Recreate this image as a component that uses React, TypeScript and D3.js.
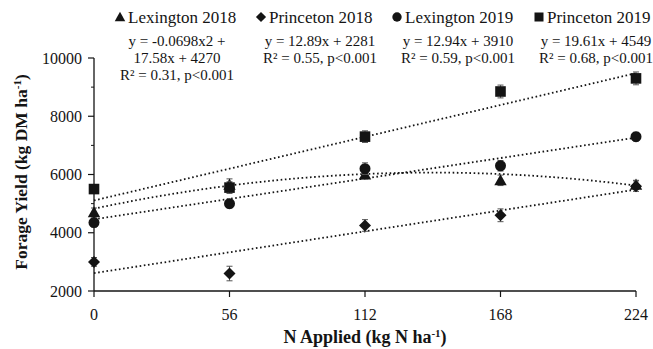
import React from 'react'
import * as d3 from 'd3'

// N rates (kg N/ha)
const N_RATES = [0, 56, 112, 168, 224]
const Y_TICKS = [2000, 4000, 6000, 8000, 10000]
const Y_MINOR = [3000, 5000, 7000, 9000]

const SERIES = ['Lexington 2018', 'Princeton 2018', 'Lexington 2019', 'Princeton 2019']
const SHAPES = ['triangle', 'diamond', 'circle', 'square']

// mean yields, same order as N_RATES
const LEX_2018 = [4700, 5650, 6000, 5800, 5650]
const PRI_2018 = [3000, 2600, 4250, 4600, 5600]
const LEX_2019 = [4350, 5000, 6200, 6300, 7300]
const PRI_2019 = [5500, 5550, 7300, 8850, 9300]
const VALUES = [LEX_2018, PRI_2018, LEX_2019, PRI_2019]

// error bar half-widths
const LEX_2018_ERR = [150, 200, 150, 180, 150]
const PRI_2018_ERR = [150, 250, 200, 220, 180]
const LEX_2019_ERR = [150, 150, 200, 180, 150]
const PRI_2019_ERR = [150, 200, 200, 220, 220]
const ERRORS = [LEX_2018_ERR, PRI_2018_ERR, LEX_2019_ERR, PRI_2019_ERR]

// trend lines as drawn: a + b*x + c*x^2
const TREND_A = [4825, 2613, 4461, 5108]
const TREND_B = [17.74, 12.81, 12.52, 19.51]
const TREND_C = [-0.0634, 0, 0, 0]

const EQUATIONS = [
  ['y = -0.0698x2 +', '17.58x + 4270', 'R² = 0.31, p<0.001'],
  ['y = 12.89x + 2281', 'R² = 0.55, p<0.001'],
  ['y = 12.94x + 3910', 'R² = 0.59, p<0.001'],
  ['y = 19.61x + 4549', 'R² = 0.68, p<0.001'],
]

const W = 653
const H = 349
const FONT = '"Liberation Serif", "Times New Roman", serif'
const INK = '#141414'

function Marker({ shape, x, y, s = 1 }: { shape: string; x: number; y: number; s?: number }) {
  if (shape === 'circle') return <circle cx={x} cy={y} r={5.5 * s} fill={INK} />
  if (shape === 'square') return <rect x={x - 5.3 * s} y={y - 5.3 * s} width={10.6 * s} height={10.6 * s} fill={INK} />
  if (shape === 'diamond') {
    const r = 6 * s
    return <path d={`M${x},${y - r}L${x + r},${y}L${x},${y + r}L${x - r},${y}Z`} fill={INK} />
  }
  const r = 6.2 * s
  return <path d={`M${x},${y - r}L${x + r},${y + r * 0.8}L${x - r},${y + r * 0.8}Z`} fill={INK} />
}

export default function App() {
  const x = d3.scaleLinear().domain([0, 224]).range([94, 636])
  const y = d3.scaleLinear().domain([2000, 10000]).range([291, 58])
  const fmt = d3.format('d')

  const xs = d3.range(0, 224.01, 2)
  const trendPaths = TREND_A.map((a, i) =>
    d3.line<number>()
      .x(n => x(n))
      .y(n => y(a + TREND_B[i] * n + TREND_C[i] * n * n))(xs)
  )

  const legendX = [120, 261, 397, 539]
  const eqX = [177, 320, 458, 596]

  return (
    <svg width={W} height={H} style={{ position: 'absolute', left: 0, top: 0, background: '#fff' }}
      fontFamily={FONT}>
      <rect width={W} height={H} fill="#fff" />

      {/* axes */}
      <line x1={x(0)} x2={x(0)} y1={y(2000)} y2={y(10000)} stroke={INK} strokeWidth={1.3} />
      <line x1={x(0)} x2={x(224)} y1={y(2000)} y2={y(2000)} stroke={INK} strokeWidth={1.3} />
      {Y_TICKS.map(t => (
        <g key={t}>
          <line x1={x(0) - 6} x2={x(0)} y1={y(t)} y2={y(t)} stroke={INK} strokeWidth={1.2} />
          <text x={x(0) - 12} y={y(t) + 5.5} textAnchor="end" fontSize={16} fill={INK}>{fmt(t)}</text>
        </g>
      ))}
      {Y_MINOR.map(t => (
        <line key={t} x1={x(0) - 3} x2={x(0)} y1={y(t)} y2={y(t)} stroke={INK} strokeWidth={1} />
      ))}
      {N_RATES.map(n => (
        <g key={n}>
          <line x1={x(n)} x2={x(n)} y1={y(2000)} y2={y(2000) + 6} stroke={INK} strokeWidth={1.2} />
          <text x={x(n)} y={320} textAnchor="middle" fontSize={16} fill={INK}>{n}</text>
        </g>
      ))}

      <text x={365} y={343} textAnchor="middle" fontSize={18} fontWeight="bold" fill={INK}>
        N Applied (kg N ha<tspan dy={-6} fontSize={11}>-1</tspan><tspan dy={6}>)</tspan>
      </text>
      <text transform={`translate(27,172) rotate(-90)`} textAnchor="middle" fontSize={17.5}
        fontWeight="bold" fill={INK}>
        Forage Yield (kg DM ha<tspan dy={-6} fontSize={11}>-1</tspan><tspan dy={6}>)</tspan>
      </text>

      {/* trend lines */}
      {trendPaths.map((d, i) => (
        <path key={i} d={d || ''} fill="none" stroke={INK} strokeWidth={1.8}
          strokeDasharray="1.6,2.6" />
      ))}

      {/* points with error bars */}
      {VALUES.map((vals, si) => (
        <g key={si}>
          {vals.map((v, j) => {
            const e = ERRORS[si][j]
            const cx = x(N_RATES[j])
            return (
              <g key={j}>
                <line x1={cx} x2={cx} y1={y(v - e)} y2={y(v + e)} stroke="#555" strokeWidth={1} />
                <line x1={cx - 3} x2={cx + 3} y1={y(v - e)} y2={y(v - e)} stroke="#555" strokeWidth={1} />
                <line x1={cx - 3} x2={cx + 3} y1={y(v + e)} y2={y(v + e)} stroke="#555" strokeWidth={1} />
                <Marker shape={SHAPES[si]} x={cx} y={y(v)} />
              </g>
            )
          })}
        </g>
      ))}

      {/* legend */}
      {SERIES.map((name, i) => (
        <g key={name}>
          <Marker shape={SHAPES[i]} x={legendX[i]} y={17} s={0.85} />
          <text x={legendX[i] + 8} y={23} fontSize={17} fill={INK}>{name}</text>
          {EQUATIONS[i].map((line, k) => (
            <text key={k} x={eqX[i]} y={46 + k * 17} textAnchor="middle" fontSize={15} fill={INK}>{line}</text>
          ))}
        </g>
      ))}
    </svg>
  )
}
